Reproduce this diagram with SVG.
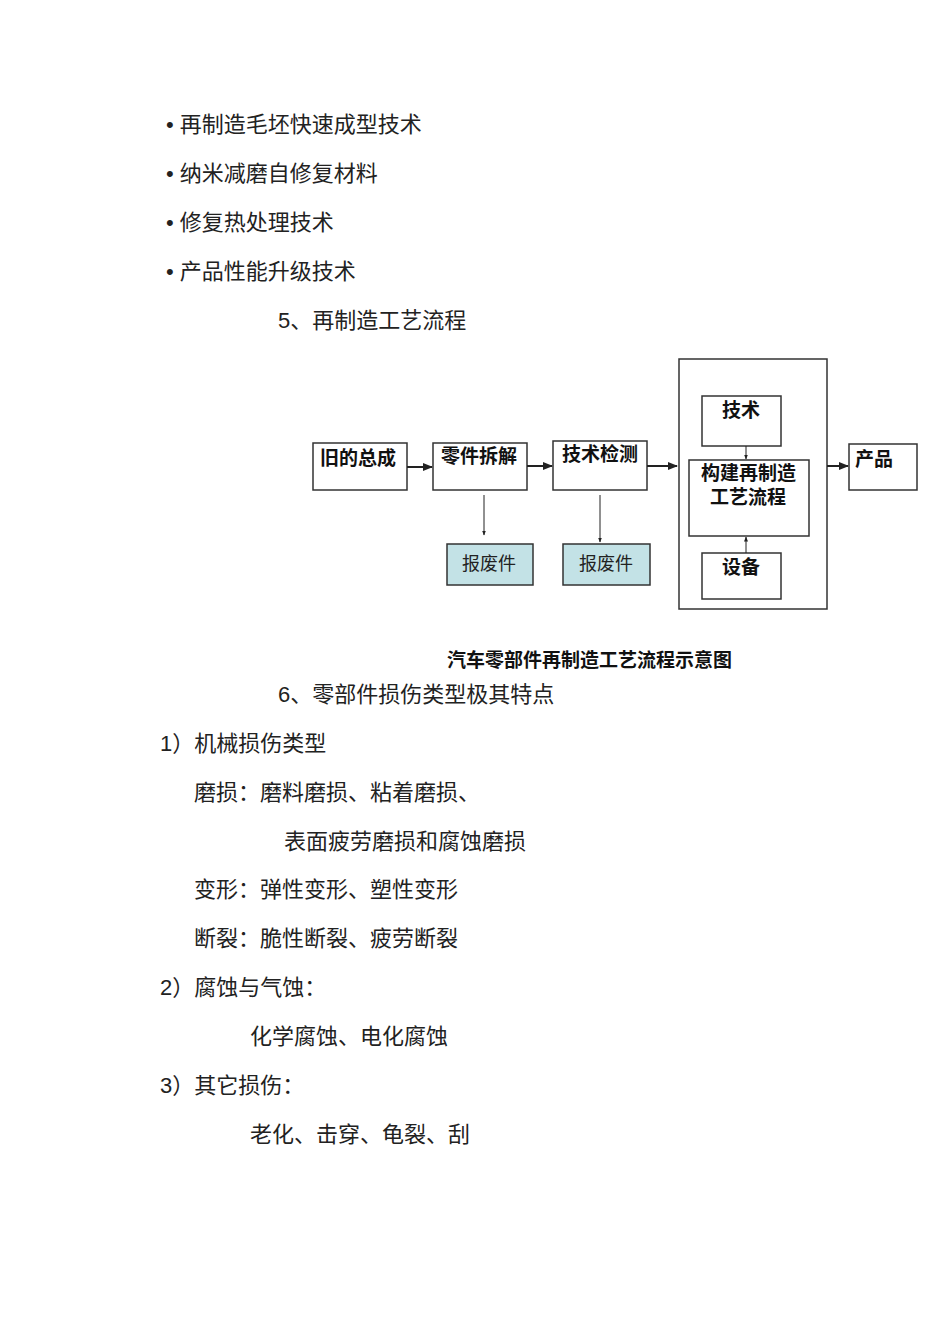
<svg xmlns="http://www.w3.org/2000/svg" width="950" height="1344" viewBox="0 0 950 1344">
<style>
.t{font-family:"Liberation Sans","Noto Sans CJK SC",sans-serif;font-size:22px;fill:#222}
.b{fill:#fff;stroke:#333;stroke-width:1.5}
.s{fill:#c3e2e6;stroke:#333;stroke-width:1.5}
.l{font-family:"Noto Sans CJK SC",sans-serif;font-size:19px;font-weight:bold;fill:#111}
.n{font-family:"Noto Sans CJK SC",sans-serif;font-size:18px;fill:#222}
.c{stroke:#222;fill:none}
</style>
<defs><marker id="a" viewBox="0 0 10 10" refX="9" refY="5" markerWidth="5" markerHeight="5" orient="auto"><path d="M0,1L10,5L0,9z" fill="#222"/></marker></defs>
<rect width="950" height="1344" fill="#fff"/>
<text class="t" x="166" y="132">• 再制造毛坯快速成型技术</text>
<text class="t" x="166" y="181">• 纳米减磨自修复材料</text>
<text class="t" x="166" y="230">• 修复热处理技术</text>
<text class="t" x="166" y="279">• 产品性能升级技术</text>
<text class="t" x="278" y="328">5、再制造工艺流程</text>
<g id="outer"><rect class="b" x="679" y="359" width="148" height="250"/></g>
<g id="n1"><rect class="b" x="313" y="443" width="94" height="47"/><text class="l" x="320" y="465">旧的总成</text></g>
<g id="n2"><rect class="b" x="433" y="443" width="94" height="47"/><text class="l" x="441" y="463">零件拆解</text></g>
<g id="n3"><rect class="b" x="553" y="441" width="94" height="49"/><text class="l" x="562" y="461">技术检测</text></g>
<g id="n4"><rect class="b" x="702" y="396" width="79" height="50"/><text class="l" x="722" y="417">技术</text></g>
<g id="n5"><rect class="b" x="689" y="460" width="120" height="76"/><text class="l" x="701" y="480">构建再制造</text><text class="l" x="710" y="504">工艺流程</text></g>
<g id="n6"><rect class="b" x="702" y="553" width="79" height="46"/><text class="l" x="722" y="574">设备</text></g>
<g id="n7"><rect class="b" x="849" y="444" width="68" height="46"/><text class="l" x="855" y="466">产品</text></g>
<g id="n8"><rect class="s" x="447" y="544" width="86" height="41"/><text class="n" x="462" y="570">报废件</text></g>
<g id="n9"><rect class="s" x="563" y="544" width="87" height="41"/><text class="n" x="579" y="570">报废件</text></g>
<g id="edges">
<line class="c" stroke-width="2" x1="407" y1="467" x2="432" y2="467" marker-end="url(#a)"/>
<line class="c" stroke-width="2" x1="527" y1="466" x2="552" y2="466" marker-end="url(#a)"/>
<line class="c" stroke-width="2" x1="647" y1="466" x2="677" y2="466" marker-end="url(#a)"/>
<line class="c" stroke-width="2" x1="827" y1="466" x2="848" y2="466" marker-end="url(#a)"/>
<line class="c" x1="484" y1="495" x2="484" y2="535" marker-end="url(#a)"/>
<line class="c" x1="600" y1="495" x2="600" y2="542" marker-end="url(#a)"/>
<line class="c" x1="746" y1="446" x2="746" y2="459" marker-end="url(#a)"/>
<line class="c" x1="746" y1="553" x2="746" y2="537" marker-end="url(#a)"/>
</g>
<text class="l" x="447" y="667" font-size="18.5">汽车零部件再制造工艺流程示意图</text>
<text class="t" x="278" y="702">6、零部件损伤类型极其特点</text>
<text class="t" x="160" y="751">1）机械损伤类型</text>
<text class="t" x="194" y="800">磨损：磨料磨损、粘着磨损、</text>
<text class="t" x="284" y="849">表面疲劳磨损和腐蚀磨损</text>
<text class="t" x="194" y="897">变形：弹性变形、塑性变形</text>
<text class="t" x="194" y="946">断裂：脆性断裂、疲劳断裂</text>
<text class="t" x="160" y="995">2）腐蚀与气蚀：</text>
<text class="t" x="250" y="1044">化学腐蚀、电化腐蚀</text>
<text class="t" x="160" y="1093">3）其它损伤：</text>
<text class="t" x="250" y="1142">老化、击穿、龟裂、刮</text>
</svg>
